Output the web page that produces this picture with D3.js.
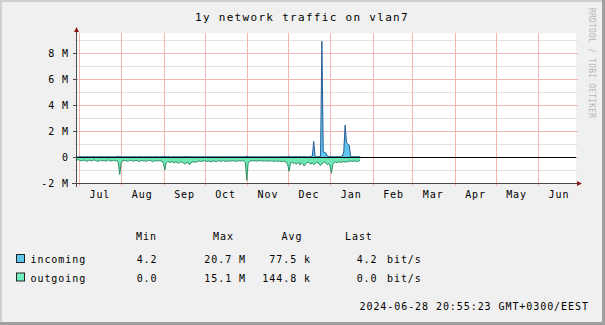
<!DOCTYPE html>
<html><head><meta charset="utf-8">
<script src="https://cdn.jsdelivr.net/npm/d3@7"></script>
<style>
html,body{margin:0;padding:0;background:#f0f0f0;}
svg{display:block;}
text{font-family:"DejaVu Sans Mono",monospace;fill:#000;}
</style></head><body>
<script>
// ---- data (values in M bit/s, one point per day from series start) ----
const title = "1y network traffic on vlan7";
const seriesStart = "2023-06-28T20:55:23Z";
const rangeEnd = "2024-06-28T20:55:23Z";
const stepDays = 1;
const incoming = [
0.02,0.01,0.02,0.03,0.01,0.02,0.02,0.01,0.03,0.02,
0.01,0.02,0.02,0.03,0.01,0.02,0.01,0.02,0.03,0.02,
0.02,0.01,0.02,0.02,0.03,0.01,0.02,0.02,0.01,0.02,
0.03,0.04,0.05,0.02,0.01,0.02,0.02,0.03,0.01,0.02,
0.02,0.01,0.03,0.02,0.02,0.01,0.02,0.03,0.02,0.01,
0.02,0.02,0.01,0.03,0.02,0.02,0.01,0.02,0.02,0.03,
0.02,0.01,0.02,0.02,0.03,0.04,0.02,0.02,0.03,0.02,
0.01,0.02,0.03,0.02,0.02,0.03,0.02,0.01,0.02,0.03,
0.04,0.02,0.02,0.03,0.02,0.02,0.01,0.02,0.02,0.01,
0.02,0.01,0.02,0.02,0.01,0.02,0.02,0.01,0.02,0.02,
0.01,0.02,0.02,0.01,0.02,0.01,0.02,0.02,0.01,0.02,
0.02,0.01,0.02,0.02,0.01,0.02,0.01,0.02,0.02,0.01,
0.02,0.02,0.01,0.02,0.03,0.05,0.03,0.02,0.01,0.02,
0.02,0.01,0.02,0.02,0.01,0.02,0.02,0.01,0.02,0.02,
0.02,0.01,0.02,0.02,0.01,0.02,0.02,0.01,0.02,0.02,
0.02,0.03,0.02,0.02,0.03,0.04,0.05,0.03,0.02,0.03,
0.02,0.03,0.04,0.02,0.03,0.03,0.02,0.04,0.03,0.02,
0.02,0.03,0.05,0.08,1.2,0.05,0.03,0.02,0.04,0.06,
8.9,0.4,0.35,0.3,0.05,0.04,0.03,0.02,0.03,0.02,
0.02,0.03,0.02,0.03,0.04,0.08,0.4,2.45,1.1,1.0,
0.9,0.05,0.03,0.02,0.03,0.02,0.03,0.02,0.02
];
const outgoing = [
0.22,0.25,0.2,0.28,0.3,0.26,0.24,0.3,0.32,0.27,
0.25,0.3,0.28,0.22,0.26,0.3,0.34,0.29,0.25,0.27,
0.3,0.28,0.33,0.26,0.24,0.29,0.31,0.27,0.25,0.3,
0.28,0.45,1.35,0.5,0.3,0.26,0.28,0.3,0.33,0.27,
0.25,0.29,0.32,0.3,0.26,0.28,0.35,0.31,0.27,0.3,
0.29,0.33,0.3,0.27,0.25,0.3,0.36,0.32,0.28,0.3,
0.31,0.28,0.3,0.33,0.5,1.0,0.45,0.35,0.38,0.42,
0.36,0.4,0.45,0.38,0.42,0.5,0.4,0.37,0.43,0.48,
0.55,0.42,0.38,0.6,0.45,0.4,0.36,0.42,0.38,0.35,
0.3,0.33,0.36,0.3,0.28,0.32,0.35,0.3,0.34,0.38,
0.32,0.3,0.35,0.33,0.29,0.31,0.34,0.3,0.28,0.32,
0.35,0.31,0.29,0.33,0.3,0.28,0.32,0.34,0.3,0.29,
0.31,0.3,0.28,0.33,0.45,1.8,0.5,0.32,0.3,0.29,
0.3,0.28,0.32,0.3,0.27,0.29,0.31,0.3,0.28,0.32,
0.3,0.33,0.29,0.31,0.3,0.35,0.32,0.3,0.34,0.31,
0.33,0.36,0.32,0.35,0.4,0.6,1.1,0.45,0.4,0.5,
0.42,0.55,0.48,0.4,0.62,0.45,0.5,0.7,0.52,0.45,
0.4,0.48,0.55,0.42,0.6,0.5,0.45,0.4,0.58,0.66,
0.5,0.45,0.4,0.48,0.6,0.5,0.7,1.25,0.55,0.42,
0.38,0.45,0.4,0.36,0.42,0.38,0.35,0.4,0.37,0.33,
0.36,0.3,0.34,0.32,0.3,0.35,0.33,0.3,0.28
];
const yTicks = [-2, 0, 2, 4, 6, 8];
const yMinor = [-1, 1, 3, 5, 7, 9];
const yDomain = [-2, 9.54];
const legendHeader = ["Min", "Max", "Avg", "Last"];
const legendNames = ["incoming", "outgoing"];
const legendMin = ["4.2", "0.0"];
const legendMax = ["20.7 M", "15.1 M"];
const legendAvg = ["77.5 k", "144.8 k"];
const legendLast = ["4.2", "0.0"];
const legendUnit = ["bit/s", "bit/s"];
const timestamp = "2024-06-28 20:55:23 GMT+0300/EEST";
const watermark = "RRDTOOL / TOBI OETIKER";

// ---- drawing ----
const W = 605, H = 325;
const L = 76, R = 576, T = 33, B = 183;
const svg = d3.select("body").append("svg").attr("width", W).attr("height", H);
svg.append("rect").attr("width", W).attr("height", H).attr("fill", "#f0f0f0");
// frame
svg.append("rect").attr("x",0).attr("y",0).attr("width",W).attr("height",2).attr("fill","#cfcfcf");
svg.append("rect").attr("x",0).attr("y",0).attr("width",2).attr("height",H).attr("fill","#cfcfcf");
svg.append("rect").attr("x",W-3).attr("y",0).attr("width",3).attr("height",H).attr("fill","#9e9e9e");
svg.append("rect").attr("x",0).attr("y",H-3).attr("width",W).attr("height",3).attr("fill","#9e9e9e");

const t0 = new Date(seriesStart), t1 = new Date(rangeEnd);
const x = d3.scaleUtc().domain([t0, t1]).range([L, R]);
const y = d3.scaleLinear().domain(yDomain).range([B, T]);
const dateAt = i => new Date(t0.getTime() + i * stepDays * 86400000);

svg.append("rect").attr("x", L).attr("y", T).attr("width", R - L).attr("height", B - T).attr("fill", "#fff");

const minorCol = "#e0e0e0", majorCol = "#f5b5b5";
// horizontal minor grid
svg.selectAll(".hmin").data(yMinor).enter().append("line")
  .attr("x1", L - 2).attr("x2", R + 2)
  .attr("y1", d => Math.round(y(d)) + 0.5).attr("y2", d => Math.round(y(d)) + 0.5)
  .attr("stroke", minorCol).attr("stroke-width", 1);
// vertical month grid
const months = d3.utcMonth.range(d3.utcMonth.ceil(t0), t1);
svg.selectAll(".vmaj").data(months).enter().append("line")
  .attr("x1", d => Math.round(x(d)) + 0.5).attr("x2", d => Math.round(x(d)) + 0.5)
  .attr("y1", T).attr("y2", B + 3)
  .attr("stroke", majorCol).attr("stroke-width", 1);
// horizontal major grid
svg.selectAll(".hmaj").data(yTicks.filter(v => v > yDomain[0])).enter().append("line")
  .attr("x1", L - 2).attr("x2", R + 2)
  .attr("y1", d => Math.round(y(d)) + 0.5).attr("y2", d => Math.round(y(d)) + 0.5)
  .attr("stroke", majorCol).attr("stroke-width", 1);

// areas
const y0 = y(0);
const areaIn = d3.area().x((d, i) => x(dateAt(i))).y0(y0).y1(d => y(d));
const lineIn = d3.line().x((d, i) => x(dateAt(i))).y(d => y(d));
const areaOut = d3.area().x((d, i) => x(dateAt(i))).y0(y0).y1(d => y(-d));
const lineOut = d3.line().x((d, i) => x(dateAt(i))).y(d => y(-d));

svg.append("path").attr("d", areaOut(outgoing)).attr("fill", "#6ee6b6");
svg.append("path").attr("d", lineOut(outgoing)).attr("fill", "none").attr("stroke", "#2f8f68").attr("stroke-width", 1);
svg.append("path").attr("d", areaIn(incoming)).attr("fill", "#5cc6ee");
svg.append("path").attr("d", lineIn(incoming)).attr("fill", "none").attr("stroke", "#2a5d96").attr("stroke-width", 1);

// zero rule
svg.append("line").attr("x1", L).attr("x2", R).attr("y1", Math.round(y0) + 0.5).attr("y2", Math.round(y0) + 0.5)
  .attr("stroke", "#000").attr("stroke-width", 1);

// axes
const axisCol = "#4a4a4a", arrowCol = "#8e1c1c";
svg.append("line").attr("x1", L - 4).attr("x2", R + 1).attr("y1", B + 0.5).attr("y2", B + 0.5).attr("stroke", axisCol);
svg.append("line").attr("x1", L + 0.5).attr("x2", L + 0.5).attr("y1", B + 4).attr("y2", T - 2).attr("stroke", axisCol);
svg.append("path").attr("d", `M${R+1},${B-2} L${R+6},${B+0.5} L${R+1},${B+3} Z`).attr("fill", arrowCol);
svg.append("path").attr("d", `M${L-2},${T-1} L${L+0.5},${T-6} L${L+3},${T-1} Z`).attr("fill", arrowCol);
// y ticks
svg.selectAll(".ytk").data(yTicks).enter().append("line")
  .attr("x1", L - 3).attr("x2", L)
  .attr("y1", d => Math.round(y(d)) + 0.5).attr("y2", d => Math.round(y(d)) + 0.5)
  .attr("stroke", axisCol);

const small = { size: "10px", ls: "0.93px" };
// y labels
svg.selectAll(".ylab").data(yTicks).enter().append("text")
  .attr("x", 69).attr("y", d => y(d) + 3.6)
  .attr("text-anchor", "end")
  .style("font-size", small.size).style("letter-spacing", small.ls)
  .text(d => d === 0 ? "0" : d + " M");

// x labels at mid-month
const mids = d3.utcMonth.range(d3.utcMonth.floor(t0), t1).map(m => d3.utcDay.offset(m, 15)).filter(d => d > t0 && d < t1);
svg.selectAll(".xlab").data(mids).enter().append("text")
  .attr("x", d => x(d) + 0.5).attr("y", 198)
  .attr("text-anchor", "middle")
  .style("font-size", small.size).style("letter-spacing", small.ls)
  .text(d => d3.utcFormat("%b")(d));

// title
svg.append("text").attr("x", 195).attr("y", 21)
  .style("font-size", "11px").style("letter-spacing", "1.3px").text(title);

// watermark
svg.append("text").attr("transform", "translate(589,8) rotate(90)")
  .style("font-size", "8px").style("letter-spacing", "0.2px").style("fill", "#b8b8b8").text(watermark);

// legend
const hdrX = [136, 213, 281.5, 345];
svg.selectAll(".lh").data(legendHeader).enter().append("text")
  .attr("x", (d, i) => hdrX[i]).attr("y", 239.5)
  .style("font-size", small.size).style("letter-spacing", small.ls).text(d => d);
const rowY = [263, 281.5];
const sqY = [254.5, 273];
const sqCol = ["#5cc6ee", "#6ef0bc"];
legendNames.forEach((name, r) => {
  svg.append("rect").attr("x", 16.5).attr("y", sqY[r]).attr("width", 8).attr("height", 8)
    .attr("fill", sqCol[r]).attr("stroke", "#222").attr("stroke-width", 1);
  const g = svg.append("g").style("font-size", small.size).style("letter-spacing", small.ls);
  g.append("text").attr("x", 30.5).attr("y", rowY[r]).text(name);
  g.append("text").attr("x", 157.5).attr("y", rowY[r]).attr("text-anchor", "end").text(legendMin[r]);
  g.append("text").attr("x", 246).attr("y", rowY[r]).attr("text-anchor", "end").text(legendMax[r]);
  g.append("text").attr("x", 311).attr("y", rowY[r]).attr("text-anchor", "end").text(legendAvg[r]);
  g.append("text").attr("x", 377.5).attr("y", rowY[r]).attr("text-anchor", "end").text(legendLast[r]);
  g.append("text").attr("x", 387).attr("y", rowY[r]).text(legendUnit[r]);
});

svg.append("text").attr("x", 359.5).attr("y", 310)
  .style("font-size", small.size).style("letter-spacing", small.ls).text(timestamp);
</script>
</body></html>
